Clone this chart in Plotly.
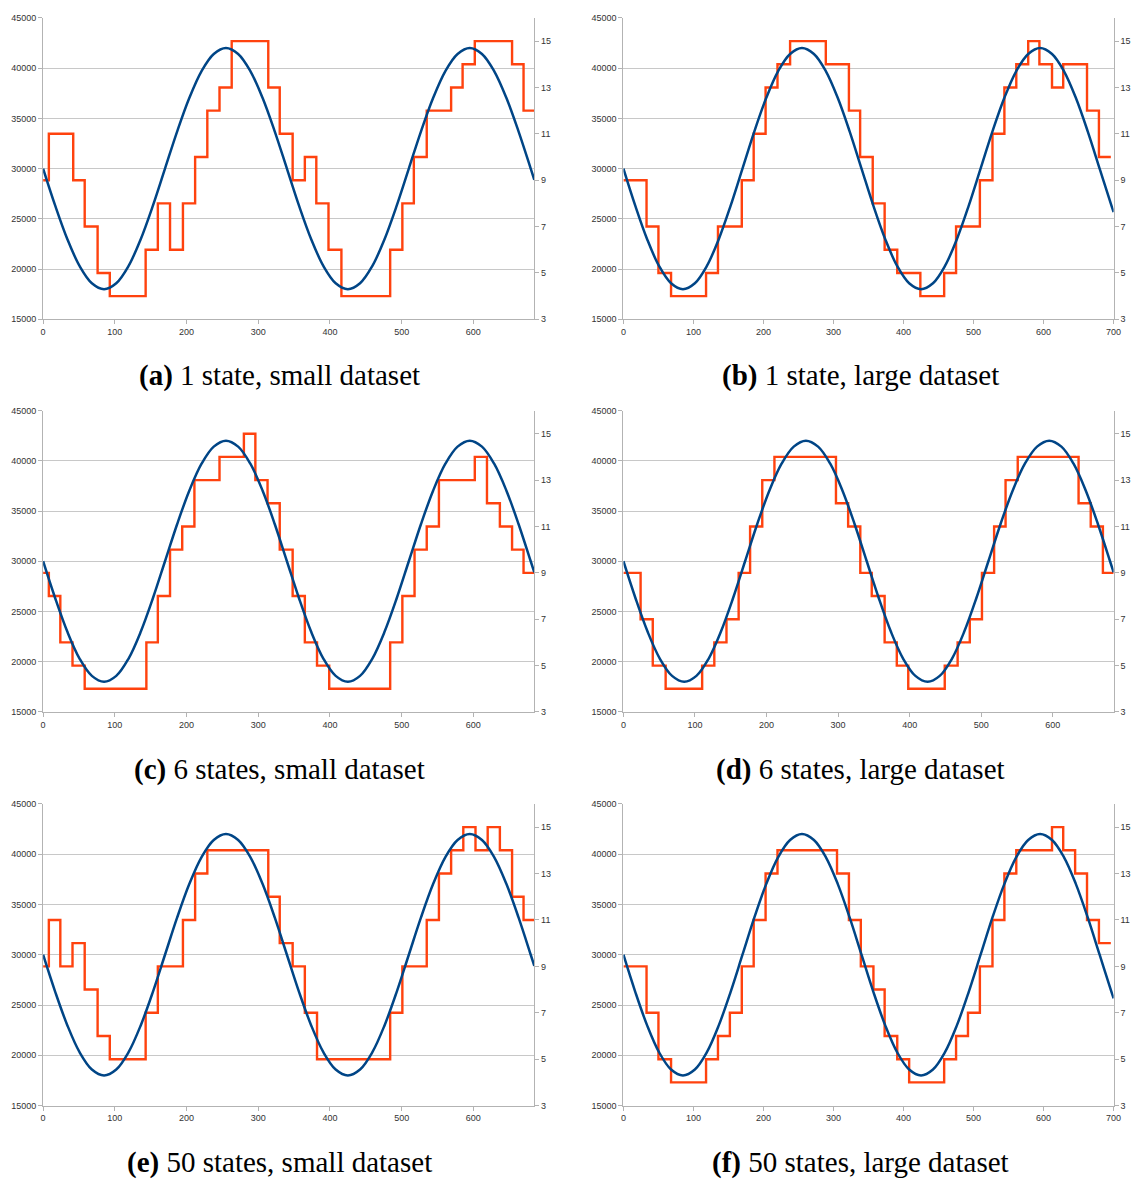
import plotly.graph_objects as go

# Left-axis series (blue curve), sampled along x
CURVE_X_SMALL = [0, 17, 34, 51, 68, 85, 102, 119, 136, 153, 170, 187, 204, 221, 238, 255, 272,
                 289, 306, 323, 340, 357, 374, 391, 408, 425, 442, 459, 476, 493, 510, 527,
                 544, 561, 578, 595, 612, 629, 646, 663, 680, 685]
CURVE_Y_SMALL = [30000, 26290, 22950, 20290, 18590, 18000, 18590, 20290, 22950, 26290, 30000,
                 33710, 37050, 39710, 41410, 42000, 41410, 39710, 37050, 33710, 30000, 26290,
                 22950, 20290, 18590, 18000, 18590, 20290, 22950, 26290, 30000, 33710, 37050,
                 39710, 41410, 42000, 41410, 39710, 37050, 33710, 30000, 28890]
CURVE_X_LARGE = CURVE_X_SMALL[:-1] + [697, 700]
CURVE_Y_LARGE = CURVE_Y_SMALL[:-1] + [26290, 25670]

# Right-axis series (orange state steps): change points and levels
A_STEP_X = [0, 8, 42, 58, 76, 93, 143, 160, 177, 195, 212, 229, 246, 263, 314, 330, 348, 365,
            381, 398, 416, 484, 501, 517, 535, 569, 585, 602, 654, 670, 685]
A_STEP_Y = [9, 11, 9, 7, 5, 4, 6, 8, 6, 8, 10, 12, 13, 15, 13, 11, 9, 10, 8, 6, 4, 6, 8, 10,
            12, 13, 14, 15, 14, 12, 12]

B_STEP_X = [0, 33, 50, 68, 118, 135, 169, 186, 203, 220, 238, 289, 322, 338, 356, 373, 391,
            424, 458, 475, 509, 527, 544, 561, 578, 594, 612, 628, 662, 679, 696]
B_STEP_Y = [9, 7, 5, 4, 5, 7, 9, 11, 13, 14, 15, 14, 12, 10, 8, 6, 5, 4, 5, 7, 9, 11, 13, 14,
            15, 14, 13, 14, 12, 10, 10]

C_STEP_X = [0, 8, 24, 41, 58, 144, 160, 177, 194, 211, 246, 280, 296, 313, 330, 348, 365, 382,
            399, 484, 501, 518, 535, 552, 602, 619, 637, 654, 670, 685]
C_STEP_Y = [9, 8, 6, 5, 4, 6, 8, 10, 11, 13, 14, 15, 13, 12, 10, 8, 6, 5, 4, 6, 8, 10, 11, 13,
            14, 12, 11, 10, 9, 9]

D_STEP_X = [0, 24, 41, 59, 110, 127, 144, 161, 177, 194, 211, 297, 314, 331, 347, 365, 382,
            398, 449, 467, 484, 501, 518, 534, 551, 636, 653, 670, 685]
D_STEP_Y = [9, 7, 5, 4, 5, 6, 7, 9, 11, 13, 14, 12, 11, 9, 8, 6, 5, 4, 5, 6, 7, 9, 11, 13, 14,
            12, 11, 9, 9]

E_STEP_X = [0, 8, 24, 41, 58, 76, 93, 143, 160, 195, 212, 229, 314, 330, 348, 365, 382, 484,
            501, 535, 552, 569, 586, 603, 620, 637, 654, 670, 685]
E_STEP_Y = [9, 11, 9, 10, 8, 6, 5, 7, 9, 11, 13, 14, 12, 10, 9, 7, 5, 7, 9, 11, 13, 14, 15,
            14, 15, 14, 12, 11, 11]

F_STEP_X = [0, 33, 50, 68, 118, 135, 152, 169, 186, 203, 220, 305, 322, 339, 357, 373, 391,
            408, 458, 475, 492, 509, 527, 544, 561, 612, 628, 645, 662, 679, 696]
F_STEP_Y = [9, 7, 5, 4, 5, 6, 7, 9, 11, 13, 14, 13, 11, 9, 8, 6, 5, 4, 5, 6, 7, 9, 11, 13, 14,
            15, 14, 13, 11, 10, 10]

CAPTIONS = [
    ("(a)", "1 state, small dataset"),
    ("(b)", "1 state, large dataset"),
    ("(c)", "6 states, small dataset"),
    ("(d)", "6 states, large dataset"),
    ("(e)", "50 states, small dataset"),
    ("(f)", "50 states, large dataset"),
]
X_TICKS_SMALL = [0, 100, 200, 300, 400, 500, 600]
X_TICKS_LARGE = [0, 100, 200, 300, 400, 500, 600, 700]
LEFT_TICKS = [15000, 20000, 25000, 30000, 35000, 40000, 45000]
RIGHT_TICKS = [3, 5, 7, 9, 11, 13, 15]

W, H = 1135, 1182
BLUE = "#004586"
ORANGE = "#ff420e"
AXIS_GRAY = "#b3b3b3"
GRID_GRAY = "#c8c8c8"
TICK_FONT = dict(family="Liberation Sans, Arial, sans-serif", size=9, color="#333333")

# panel layout: (x-range end, curve, steps, x ticks)
panels = [
    (685, CURVE_X_SMALL, CURVE_Y_SMALL, A_STEP_X, A_STEP_Y, X_TICKS_SMALL),
    (700, CURVE_X_LARGE, CURVE_Y_LARGE, B_STEP_X, B_STEP_Y, X_TICKS_LARGE),
    (685, CURVE_X_SMALL, CURVE_Y_SMALL, C_STEP_X, C_STEP_Y, X_TICKS_SMALL),
    (685, CURVE_X_SMALL, CURVE_Y_SMALL, D_STEP_X, D_STEP_Y, X_TICKS_SMALL),
    (685, CURVE_X_SMALL, CURVE_Y_SMALL, E_STEP_X, E_STEP_Y, X_TICKS_SMALL),
    (700, CURVE_X_LARGE, CURVE_Y_LARGE, F_STEP_X, F_STEP_Y, X_TICKS_LARGE),
]

col_px = [(40.5, 536.5), (626.5, 1121.5)]
row_px = [(13, 317), (409, 713), (805.7, 1110)]
caption_cx = [279, 866]
caption_cy = [374, 771, 1167]

fig = go.Figure()
layout = dict(
    width=W, height=H, margin=dict(l=0, r=0, t=0, b=0),
    paper_bgcolor="white", plot_bgcolor="white", showlegend=False,
)
annotations = []

axis_common = dict(zeroline=False, showline=True, linecolor=AXIS_GRAY, linewidth=1,
                   ticks="outside", ticklen=4, tickcolor=AXIS_GRAY, tickfont=TICK_FONT)

for i, (xmax, cx, cy, sx, sy, xticks) in enumerate(panels):
    r, c = divmod(i, 2)
    n = i + 1
    xa = "xaxis" if n == 1 else f"xaxis{n}"
    # base axis: state scale on the right; overlay: value scale on the left (drawn on top)
    ya_r = "yaxis" if n == 1 else f"yaxis{n}"
    ya_l = f"yaxis{n + 6}"
    xref = "x" if n == 1 else f"x{n}"
    yref_r = "y" if n == 1 else f"y{n}"
    yref_l = f"y{n + 6}"

    xd = [col_px[c][0] / W, col_px[c][1] / W]
    yd = [1 - row_px[r][1] / H, 1 - row_px[r][0] / H]

    layout[xa] = dict(domain=xd, anchor=yref_r, range=[0, xmax], tickvals=xticks,
                      showgrid=False, **axis_common)
    layout[ya_r] = dict(domain=yd, anchor=xref, side="right", range=[3, 16],
                        tickvals=RIGHT_TICKS, showgrid=False, **axis_common)
    layout[ya_l] = dict(overlaying=yref_r, anchor=xref, side="left", range=[15000, 45000],
                        tickvals=LEFT_TICKS, tickformat="d", showgrid=True,
                        gridcolor=GRID_GRAY, gridwidth=1, **axis_common)

    fig.add_trace(go.Scatter(
        x=sx, y=sy, xaxis=xref, yaxis=yref_r, mode="lines",
        line=dict(color=ORANGE, width=2.4, shape="hv"), hoverinfo="skip",
    ))
    fig.add_trace(go.Scatter(
        x=cx, y=cy, xaxis=xref, yaxis=yref_l, mode="lines",
        line=dict(color=BLUE, width=2.5, shape="spline", smoothing=1.0), hoverinfo="skip",
    ))

    tag, text = CAPTIONS[i]
    annotations.append(dict(
        text=f"<b>{tag}</b> {text}", xref="paper", yref="paper",
        x=caption_cx[c] / W, y=1 - caption_cy[r] / H, xanchor="center", yanchor="middle",
        showarrow=False, font=dict(family="Liberation Serif, Times New Roman, serif", size=29,
                                   color="black"),
    ))

layout["annotations"] = annotations
fig.update_layout(**layout)
fig.write_html("out.html")
